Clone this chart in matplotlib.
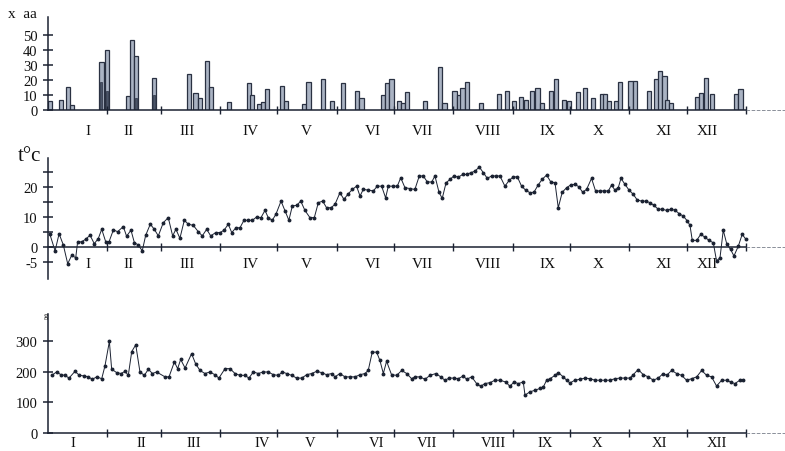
import matplotlib.pyplot as plt

plt.rcParams['font.family'] = ['Liberation Serif', 'DejaVu Serif']

months = ['I', 'II', 'III', 'IV', 'V', 'VI', 'VII', 'VIII', 'IX', 'X', 'XI', 'XII']
month_len = [31, 28, 31, 30, 31, 30, 31, 31, 30, 31, 30, 31]
# where the month names sit (day of year), as drawn in the original
label_day_upper = [21, 42, 73, 106, 135, 170, 196, 230, 261, 288, 322, 345]
label_day_lower = [13, 49, 76, 112, 137, 172, 198, 233, 260, 287, 320, 350]

# precipitation bars (day of year, value)
precip_day = [1.0, 6.6, 10.3, 12.6, 28.0, 30.7, 41.9, 43.8, 46.0, 55.6,
              73.7, 77.2, 79.5, 83.2, 85.3, 94.7, 105.0, 106.9, 110.4, 112.4,
              114.7, 122.5, 124.6, 133.7, 136.3, 144.0, 148.4, 154.1, 161.6, 164.0,
              175.2, 177.3, 179.7, 183.4, 185.5, 187.8, 197.3, 205.2, 207.4, 212.6,
              214.8, 216.8, 219.0, 226.3, 235.9, 240.0, 243.7, 247.5, 250.0, 253.3,
              256.0, 258.4, 263.2, 265.7, 269.7, 272.7, 277.2, 280.9, 285.2, 289.6,
              291.5, 293.3, 297.1, 299.0, 304.7, 307.0, 314.3, 318.3, 320.3, 322.5,
              323.9, 325.8, 339.4, 341.7, 344.1, 347.5, 359.8, 362.2]
precip_val = [6, 7, 15.5, 3.5, 32, 40, 9.5, 46.7, 36, 21.5,
              24, 11.5, 8, 32.7, 15.5, 5.5, 17.8, 10, 4, 5.5,
              14, 16, 6, 4, 18.5, 20.7, 6, 18, 12.7, 8,
              10, 18, 20.7, 6, 4.5, 12, 6.2, 29, 4.5, 12.7,
              10, 15, 18.5, 5, 10.7, 13, 6.2, 9, 6.7, 12.7,
              14.5, 5, 12.7, 21, 6.7, 6.2, 12.2, 14.5, 8.2, 10.4,
              10.4, 6.2, 6.2, 19, 19.3, 19.3, 13, 21, 26, 22.7,
              6.7, 5, 8.5, 11.5, 21.5, 11, 11, 13.8]
inner_day = [27.6, 30.9, 46.2, 55.4]
inner_val = [19, 13, 8, 10]

# air temperature
temp_day = [1.0, 3.7, 5.8, 8.0, 10.3, 12.4, 14.5, 15.5, 17.6, 19.7,
            22.0, 24.2, 26.3, 28.1, 30.2, 31.9, 34.2, 36.4, 39.4, 41.1,
            43.4, 45.2, 47.2, 49.3, 51.1, 53.5, 55.6, 57.7, 60.3, 62.9,
            65.2, 66.9, 69.0, 71.3, 73.4, 76.0, 78.6, 80.7, 83.0, 85.1,
            87.7, 90.0, 92.1, 94.3, 96.1, 98.3, 100.4, 102.5, 104.8, 106.9,
            109.1, 111.4, 113.5, 115.2, 117.3, 119.2, 121.9, 124.0, 126.0, 127.8,
            130.1, 132.2, 134.4, 137.0, 139.3, 141.4, 143.7, 145.7, 148.0, 150.1,
            152.7, 154.8, 157.1, 159.2, 161.4, 163.2, 164.9, 167.5, 170.2, 172.2,
            174.5, 176.6, 178.0, 180.6, 182.7, 184.5, 186.7, 189.3, 191.9,
            194.2, 196.3, 198.4, 200.7, 202.4, 204.5, 206.2, 208.2, 210.3, 212.3,
            214.6, 216.9, 219.0, 221.2, 223.3, 225.6, 227.7, 229.8, 232.0, 234.1,
            236.4, 239.0, 241.3, 243.4, 245.5, 247.7, 249.8, 252.1, 254.2, 256.4,
            258.5, 260.8, 262.9, 265.2, 266.9, 269.0, 271.3, 273.4, 275.6, 277.7,
            279.6, 281.7, 284.3, 286.4, 288.7, 290.8, 293.1, 294.8, 296.5, 298.3,
            299.7, 301.8, 303.9, 306.1, 308.2, 310.5, 312.6, 314.9, 316.9, 319.2,
            321.3, 323.6, 325.7, 327.9, 330.2, 332.3, 334.4, 335.8, 337.0, 339.3,
            341.4, 343.6, 345.7, 348.0, 349.7, 351.5, 353.2, 355.0, 357.0, 358.8,
            361.1, 363.1, 365.0]
temp_val = [4.2, -1.3, 4.4, 0.7, -5.6, -2.8, -3.6, 1.7, 1.7, 2.6,
            3.9, 1.1, 2.8, 5.9, 1.7, 1.7, 5.7, 5.1, 6.8, 3.6,
            5.6, 1.4, 0.7, -1.3, 3.9, 7.6, 5.9, 3.7, 8.1, 9.8,
            3.7, 5.9, 2.9, 8.9, 7.6, 7.2, 5.1, 3.7, 5.9, 3.7,
            4.8, 4.8, 5.6, 7.6, 4.8, 6.4, 6.4, 8.9, 8.9, 8.9,
            10.0, 9.8, 12.2, 9.8, 8.9, 10.9, 15.3, 12.0, 8.9, 13.7,
            13.9, 15.3, 12.2, 9.8, 9.8, 14.8, 15.3, 13.1, 13.1, 14.2,
            18.1, 15.9, 17.8, 19.2, 20.3, 17.0, 19.2, 19.0, 18.7, 20.3,
            20.3, 16.4, 20.3, 20.3, 20.3, 23.1, 19.8, 19.5, 19.2,
            23.7, 23.7, 21.7, 21.7, 23.7, 18.3, 16.2, 21.4, 22.6, 23.7,
            23.3, 24.2, 24.2, 24.8, 25.3, 26.7, 24.8, 22.9, 23.7, 23.7,
            23.7, 20.3, 22.3, 23.4, 23.4, 20.3, 19.0, 18.1, 18.3, 20.7,
            22.6, 24.0, 21.8, 21.4, 13.1, 18.3, 19.8, 20.7, 20.9, 20.1,
            18.3, 19.2, 22.9, 18.7, 18.7, 18.7, 18.7, 20.7, 19.0, 19.8,
            22.9, 20.9, 19.0, 17.6, 15.7, 15.3, 15.3, 14.8, 13.9, 12.6,
            12.6, 12.2, 12.6, 12.3, 11.1, 10.3, 8.7, 7.2, 2.2, 2.2,
            4.2, 3.3, 2.2, 1.4, -4.7, -3.6, 5.6, 1.1, -0.8, -3.0,
            0.3, 4.2, 2.6]

# bottom series
pres_day = [1.9, 4.5, 6.8, 8.9, 11.0, 14.1, 16.4, 19.0, 21.1, 23.2,
            25.5, 28.1, 29.8, 32.1, 33.3, 35.9, 38.2, 40.3, 42.0, 43.8,
            45.9, 48.1, 50.4, 52.5, 54.6, 56.8, 61.2, 63.3, 66.1, 67.8,
            69.4, 71.7, 75.1, 77.2, 79.5, 82.1, 84.7, 87.3, 89.4, 92.6,
            95.2, 97.8, 100.4, 103.0, 105.1, 107.4, 110.0, 112.6, 115.2, 117.9,
            120.5, 122.6, 124.8, 127.4, 130.1, 132.7, 135.3, 137.9, 140.5, 143.1,
            145.7, 148.4, 150.1, 152.7, 155.3, 157.9, 160.6, 163.2, 165.8, 167.5,
            169.6, 171.9, 173.6, 175.4, 177.1, 179.7, 182.4, 185.0, 187.6, 190.2,
            191.9, 194.5, 197.2, 199.8, 202.9, 205.4, 207.6, 209.9, 212.3, 214.6,
            217.2, 219.0, 221.6, 224.2, 226.3, 228.5, 231.2, 233.8, 236.4, 239.5,
            241.6, 243.7, 246.0, 248.6, 249.5, 252.1, 254.7, 257.3, 259.1, 260.8,
            262.6, 265.2, 266.9, 269.5, 271.3, 273.0, 275.6, 278.2, 280.9, 283.5,
            286.1, 288.7, 291.3, 293.9, 296.5, 299.2, 301.8, 304.4, 306.1, 308.7,
            311.4, 314.0, 316.6, 319.2, 321.8, 323.6, 326.2, 328.8, 331.4, 334.0,
            336.7, 339.3, 341.9, 344.5, 347.1, 349.7, 352.4, 355.0, 357.0, 359.3,
            361.9, 363.6]
pres_val = [189, 200, 191, 189, 180, 202, 189, 187, 184, 176,
            184, 178, 220, 300, 209, 198, 195, 202, 189, 267,
            289, 200, 189, 209, 195, 200, 184, 184, 233, 211,
            241, 213, 260, 227, 205, 195, 200, 191, 180, 211,
            211, 195, 189, 189, 180, 200, 195, 200, 200, 191,
            189, 200, 195, 189, 180, 180, 191, 195, 202, 198,
            191, 195, 184, 195, 184, 184, 184, 191, 195, 205,
            265, 265, 238, 195, 235, 191, 189, 205, 195, 178,
            184, 184, 176, 189, 195, 184, 173, 180, 180, 178,
            187, 176, 184, 162, 153, 162, 165, 173, 173, 167,
            153, 167, 162, 167, 124, 135, 140, 146, 151, 173,
            178, 189, 198, 184, 173, 164, 173, 176, 180, 178,
            173, 173, 173, 173, 178, 180, 180, 180, 191, 208,
            191, 184, 173, 180, 195, 189, 205, 195, 189, 173,
            178, 184, 205, 189, 184, 154, 173, 173, 167, 162,
            173, 175]

ink = '#1b2232'
bounds = [0]
for n in month_len:
    bounds.append(bounds[-1] + n)

fig = plt.figure(figsize=(7.85, 4.52), dpi=100)
L, W = 48 / 785, 737 / 785
ax1 = fig.add_axes([L, 1 - 111 / 452, W, 93 / 452])
ax2 = fig.add_axes([L, 1 - 280 / 452, W, 121 / 452])
ax3 = fig.add_axes([L, 1 - 434 / 452, W, 119 / 452])


def style(ax, pad, label_days, size=11):
    ax.set_xlim(0, 385.5)
    for s in ['top', 'right']:
        ax.spines[s].set_visible(False)
    for s in ['left', 'bottom']:
        ax.spines[s].set_color(ink)
        ax.spines[s].set_linewidth(1.1)
    ax.spines['bottom'].set_bounds(0, 365)
    ax.set_xticks(bounds[1:])
    ax.set_xticklabels([])
    ax.set_xticks(label_days, minor=True)
    ax.set_xticklabels(months, minor=True, fontsize=size)
    ax.tick_params(axis='x', which='major', direction='inout', length=6,
                   width=1, color=ink)
    ax.tick_params(axis='x', which='minor', length=0, pad=pad, colors='#111')
    ax.tick_params(axis='y', direction='inout', length=7, width=1.1,
                   color=ink, labelsize=10.5, pad=4, labelcolor='#111')
    ax.plot([365, 385.5], [0, 0], color='#8a8f99', lw=0.7, ls='--',
            clip_on=False)


# top: bars
ax1.bar(precip_day, precip_val, width=2.2, color='#aab3c3',
        edgecolor='#2a3142', linewidth=0.9)
ax1.bar(inner_day, inner_val, width=1.2, color='#4a5468',
        edgecolor='#2a3142', linewidth=0.5)
ax1.set_ylim(0, 62)
ax1.set_yticks([0, 10, 20, 30, 40, 50])
style(ax1, 10, label_day_upper)

# middle: temperature
ax2.plot(temp_day, temp_val, color=ink, lw=0.7, marker='o', ms=1.8)
ax2.set_ylim(-10.7, 29.7)
ax2.spines['bottom'].set_position(('data', 0))
ax2.set_yticks([-5, 0, 5, 10, 15, 20, 25])
ax2.set_yticklabels(['-5', '0', '', '10', '', '20', ''])
style(ax2, 7, label_day_upper)

# bottom series
ax3.plot(pres_day, pres_val, color=ink, lw=0.7, marker='o', ms=1.8)
ax3.set_ylim(0, 390)
ax3.set_yticks([0, 100, 200, 300])
style(ax3, 2, label_day_lower, size=10.5)

fig.text(8 / 785, 1 - 15 / 452, 'x  aa', fontsize=11, va='center',
         color='#111')
fig.text(18 / 785, 1 - 157 / 452, 't\u00b0c', fontsize=15, va='center',
         color='#111')
fig.text(44 / 785, 1 - 316 / 452, 'g', fontsize=6, va='center',
         color='#111')

fig.savefig('out.png', dpi=100)
